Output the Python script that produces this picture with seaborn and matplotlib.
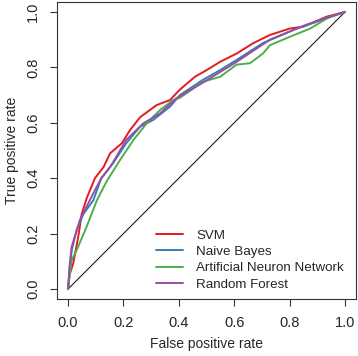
import matplotlib
matplotlib.use("Agg")
import matplotlib.pyplot as plt
import seaborn as sns
import pandas as pd

svm_fpr = [0, .005, .019, .037, .049, .068, .097, .128, .152, .194, .224, .26, .32, .368, .404, .458, .50, .549, .609, .668, .729, .80, .85, .934, 1.0]
svm_tpr = [0, .05, .094, .19, .27, .33, .40, .44, .49, .526, .574, .62, .664, .682, .72, .766, .79, .82, .85, .887, .917, .94, .947, .983, 1.0]

nb_fpr = [0, .005, .013, .031, .055, .091, .12, .163, .21, .26, .307, .368, .404, .487, .549, .609, .704, .826, .934, 1.0]
nb_tpr = [0, .06, .14, .213, .27, .32, .40, .455, .526, .586, .61, .658, .70, .755, .79, .827, .888, .94, .977, 1.0]

ann_fpr = [0, .005, .013, .031, .067, .104, .14, .188, .236, .284, .332, .38, .404, .487, .549, .609, .657, .704, .729, .80, .874, .946, 1.0]
ann_tpr = [0, .04, .105, .14, .225, .32, .39, .466, .538, .598, .646, .682, .69, .748, .766, .81, .815, .85, .88, .91, .94, .983, 1.0]

rf_fpr = [0, .005, .013, .043, .091, .12, .152, .21, .272, .332, .39, .487, .609, .729, .85, .934, 1.0]
rf_tpr = [0, .08, .153, .25, .345, .40, .44, .538, .598, .634, .688, .745, .82, .90, .95, .98, 1.0]

models = ["SVM", "Naive Bayes", "Artificial Neuron Network", "Random Forest"]
colors = ["#E41A1C", "#377EB8", "#4DAF4A", "#984EA3"]
ticks = [0.0, 0.2, 0.4, 0.6, 0.8, 1.0]
tick_labels = ["0.0", "0.2", "0.4", "0.6", "0.8", "1.0"]

frames = []
for name, f, t in zip(models, [svm_fpr, nb_fpr, ann_fpr, rf_fpr], [svm_tpr, nb_tpr, ann_tpr, rf_tpr]):
    frames.append(pd.DataFrame({"fpr": f, "tpr": t, "model": name}))
df = pd.concat(frames, ignore_index=True)

sns.set_style("white")
plt.rcParams['font.family'] = ['Liberation Sans', 'DejaVu Sans']

fig = plt.figure(figsize=(3.58, 3.56), dpi=100)
ax = fig.add_axes([57/358, (356-299)/356, 299/358, 297/356])

ax.plot([0, 1], [0, 1], color="black", lw=0.7)
sns.lineplot(data=df, x="fpr", y="tpr", hue="model", hue_order=models,
             palette=colors, sort=False, estimator=None, lw=1.4, ax=ax)

ax.set_xlim(-0.04, 1.04)
ax.set_ylim(-0.036, 1.036)
ax.set_xticks(ticks)
ax.set_xticklabels(tick_labels, fontsize=10.5)
ax.set_yticks(ticks)
ax.set_yticklabels(tick_labels, fontsize=10.5, rotation=90, va="center")
ax.tick_params(axis="both", direction="out", length=5, width=0.8, color="#333333",
               bottom=True, left=True, pad=7)
for s in ax.spines.values():
    s.set_color("#333333")
    s.set_linewidth(0.8)
ax.set_xlabel("False positive rate", fontsize=10, labelpad=5)
ax.set_ylabel("True positive rate", fontsize=10, labelpad=5)

leg = ax.legend(loc="lower right", bbox_to_anchor=(1.0, -0.012), frameon=False,
                fontsize=9.6, handlelength=2.0, handletextpad=1.0, labelspacing=0.3)

fig.savefig("out.png", dpi=100)
